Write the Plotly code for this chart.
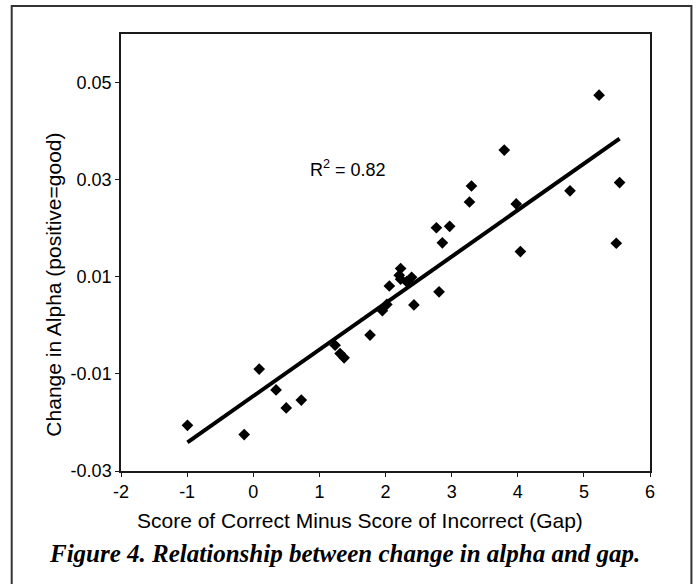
import numpy as np
import plotly.graph_objects as go

# Data
gap = [-0.995, -0.137, 0.090, 0.345, 0.499, 0.727, 1.238, 1.313, 1.374, 1.766,
       1.953, 2.020, 2.058, 2.229, 2.208, 2.229, 2.320, 2.395, 2.430, 2.770,
       2.970, 2.860, 2.810, 3.270, 3.300, 3.796, 3.977, 4.040, 4.790, 5.230,
       5.540, 5.490]
alpha_change = [-0.0206, -0.0225, -0.0090, -0.0133, -0.0170, -0.0154, -0.0041, -0.0058,
                -0.0067, -0.0020, 0.0030, 0.0043, 0.0081, 0.0117, 0.0103, 0.0095,
                0.0090, 0.0099, 0.0042, 0.0201, 0.0204, 0.0170, 0.0069, 0.0254,
                0.0287, 0.0361, 0.0250, 0.0152, 0.0277, 0.0474, 0.0294, 0.0169]
x_ticks = [-2, -1, 0, 1, 2, 3, 4, 5, 6]
x_tick_labels = ["-2", "-1", "0", "1", "2", "3", "4", "5", "6"]
y_ticks = [-0.03, -0.01, 0.01, 0.03, 0.05]
y_tick_labels = ["-0.03", "-0.01", "0.01", "0.03", "0.05"]
r2_label = "R<sup>2</sup> = 0.82"
x_title = "Score of Correct Minus Score of Incorrect (Gap)"
y_title = "Change in Alpha (positive=good)"
caption = "Figure 4. Relationship between change in alpha and gap."

# Linear trend line fitted to the data
slope, intercept = np.polyfit(gap, alpha_change, 1)
line_x = [min(gap), max(gap)]
line_y = [slope * v + intercept for v in line_x]

W, H = 698, 584
L, R, T, B = 120.5, 47.5, 34, 113
pw, ph = W - L - R, H - T - B

def px(xp):
    return (xp - L) / pw

def py(yp):
    return (H - B - yp) / ph

fig = go.Figure()
fig.add_trace(go.Scatter(x=line_x, y=line_y, mode="lines",
                         line=dict(color="black", width=4), hoverinfo="skip"))
fig.add_trace(go.Scatter(x=gap, y=alpha_change, mode="markers",
                         marker=dict(symbol="diamond", size=9, color="black",
                                     line=dict(width=0))))

sans = "Liberation Sans, Arial, sans-serif"
axis_common = dict(showline=True, linecolor="#1a1a1a", linewidth=1.5, mirror=True,
                   showgrid=False, zeroline=False, ticks="outside", ticklen=4,
                   tickwidth=1.2, tickcolor="#1a1a1a", automargin=False,
                   tickfont=dict(family=sans, size=18, color="black"))
fig.update_xaxes(range=[-2, 6], tickvals=x_ticks, ticktext=x_tick_labels, **axis_common)
fig.update_yaxes(range=[-0.03, 0.06], tickvals=y_ticks, ticktext=y_tick_labels,
                 **axis_common)

fig.add_annotation(x=1.43, y=0.0324, xref="x", yref="y", text=r2_label,
                   xanchor="center", yanchor="middle",
                   showarrow=False, font=dict(family=sans, size=18, color="black"))
fig.add_annotation(x=px(360), y=py(520), xref="paper", yref="paper", text=x_title,
                   xanchor="center", yanchor="middle",
                   showarrow=False, font=dict(family=sans, size=21, color="black"))
fig.add_annotation(x=px(52), y=py(285), xref="paper", yref="paper", text=y_title,
                   xanchor="center", yanchor="middle", textangle=-90, showarrow=False,
                   font=dict(family=sans, size=21, color="black"))
fig.add_annotation(x=px(46), y=py(553), xref="paper", yref="paper",
                   xanchor="left", yanchor="middle",
                   text="<b><i>" + caption + "</i></b>", showarrow=False,
                   font=dict(family="Liberation Serif, serif", size=25, color="black"))

fig.add_shape(type="rect", xref="paper", yref="paper",
              x0=px(11), x1=px(692), y0=py(600), y1=py(6),
              line=dict(color="#333333", width=2), layer="below")

fig.update_layout(width=W, height=H, margin=dict(l=L, r=R, t=T, b=B),
                  plot_bgcolor="white", paper_bgcolor="white", showlegend=False)

fig.write_html("out.html", config={"displayModeBar": False},
               post_script="document.body.style.margin='0';")
